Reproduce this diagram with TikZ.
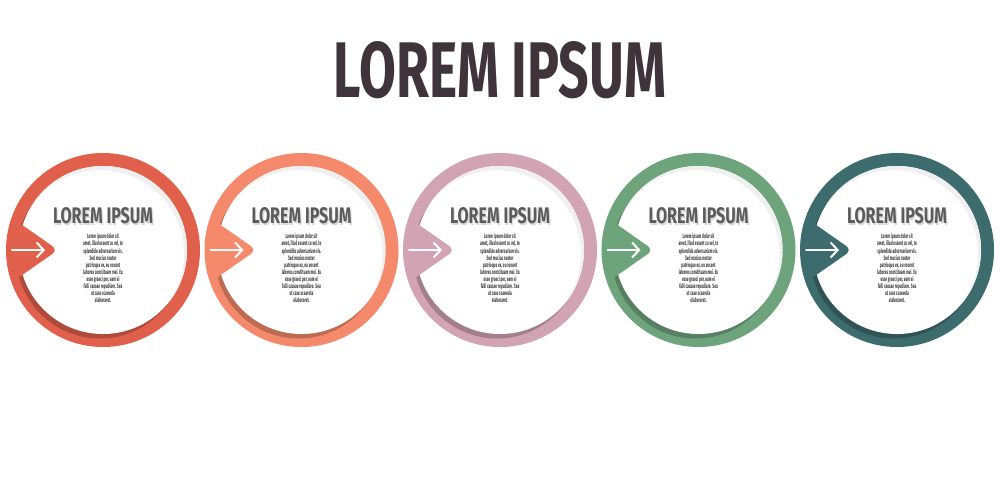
\documentclass[tikz,border=0pt]{standalone}
\usepackage{fontspec}
\setmainfont{Fira Sans}
\usepackage{graphicx}
\usetikzlibrary{arrows.meta}
\definecolor{cA}{HTML}{E0604B}
\definecolor{cB}{HTML}{F4896B}
\definecolor{cC}{HTML}{D1A3B3}
\definecolor{cD}{HTML}{6EA47C}
\definecolor{cE}{HTML}{3D6C6E}
\definecolor{titlecol}{HTML}{3E3439}
\definecolor{subcol}{HTML}{5C5C5C}
\definecolor{bodycol}{HTML}{3A3A3A}
\newcommand{\bodytext}{%
  \fontsize{3.2pt}{3.3pt}\selectfont\bfseries
  \scalebox{0.5}[1]{\begin{tabular}{@{}c@{}}
  Lorem ipsum dolor sit\\
  amet, illud essent cu vel, te\\
  splendide adversarium vis.\\
  Sed mucius noster\\
  patrioque ex, eu vocent\\
  labores constituam mei. Eu\\
  esse graeci per, eam ei\\
  falli causae repudiare. Sea\\
  ut case scaevola\\
  elaboraret.
  \end{tabular}}}
\tikzset{
  titletext/.style={inner sep=0pt, text=titlecol},
  subtext/.style={inner sep=0pt, text=subcol},
  subshadow/.style={inner sep=0pt, text=gray!30},
  bodynode/.style={inner sep=0pt, text=bodycol},
  arrowline/.style={white, line width=1pt, line cap=round,
    -{Straight Barb[length=3.5pt,width=7.5pt,line width=1pt]}}
}
\begin{document}
\begin{tikzpicture}[x=0.5pt,y=-0.5pt]
\useasboundingbox (0,0) rectangle (1000,500);
\fill[white] (0,0) rectangle (1000,500);
\node[titletext] (title) at (500,70) {\resizebox{166pt}{28pt}{\bfseries LOREM IPSUM}};
\foreach \i/\col in {0/cA,1/cB,2/cC,3/cD,4/cE}{
  \pgfmathsetmacro\cx{103+198.5*\i}
  \coordinate (c\i) at (\cx,250);
  % ring
  \fill[\col] (c\i) circle[radius=48.5pt];
  % inner dark band
  \fill[\col!78!black] ([shift={(-3,4.5)}]c\i) circle[radius=42pt];
  % white disc
  \fill[white] (c\i) circle[radius=42pt];
  % soft shadow on disc
  \begin{scope}
    \clip (c\i) circle[radius=42pt];
    \fill[gray!12, even odd rule] ([shift={(-120,-120)}]c\i) rectangle ([shift={(120,120)}]c\i)
      ([shift={(-3,4)}]c\i) circle[radius=42pt];
  \end{scope}
  % arrow head wedge
  \fill[\col, rounded corners=3.5pt] ([shift={(-90,-31.4)}]c\i) -- ([shift={(-45,0)}]c\i)
    -- ([shift={(-90,31.4)}]c\i) -- cycle;
  % white arrow
  \coordinate (a\i) at ([shift={(-91,0)}]c\i);
  \coordinate (b\i) at ([shift={(-58,0)}]c\i);
  \draw[arrowline] (a\i) -- (b\i);
  % texts
  \node[subshadow] (ss\i) at ([shift={(1.2,1.6)}]\cx,216) {\resizebox{50pt}{8pt}{\bfseries LOREM IPSUM}};
  \node[subtext] (s\i) at (\cx,216) {\resizebox{50pt}{8pt}{\bfseries LOREM IPSUM}};
  \node[bodynode] (t\i) at (\cx,269) {\bodytext};
}
\end{tikzpicture}
\end{document}
